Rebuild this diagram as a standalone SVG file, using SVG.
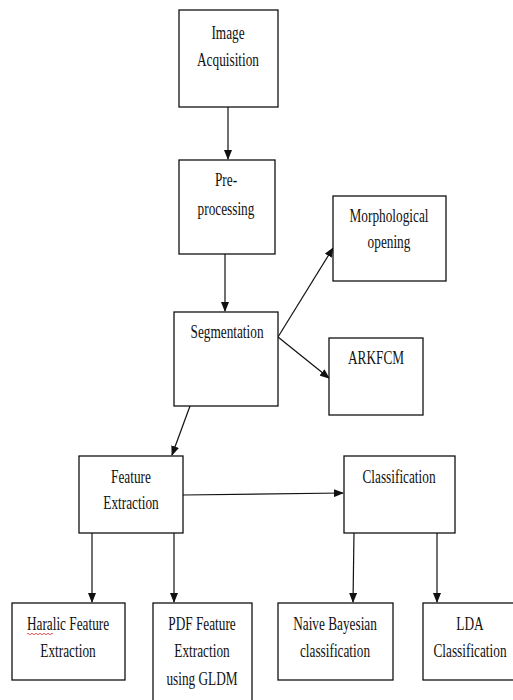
<svg xmlns="http://www.w3.org/2000/svg" width="513" height="700" viewBox="0 0 513 700">
<style>
.box{fill:#fff;stroke:#111;stroke-width:1.3}
.t{font-family:"Liberation Serif","Times New Roman",serif;font-size:19px;fill:#111;text-anchor:middle}
.c{stroke:#111;stroke-width:1.2;fill:none;marker-end:url(#ah)}
</style>
<defs>
<marker id="ah" markerWidth="10" markerHeight="8" refX="9" refY="4" orient="auto" markerUnits="userSpaceOnUse">
<path d="M0,0 L10,4 L0,8 Z" fill="#111"/>
</marker>
</defs>
<rect width="513" height="700" fill="#fff"/>
<g id="connectors">
<line class="c" x1="228" y1="107" x2="228" y2="159"/>
<line class="c" x1="225" y1="254" x2="225" y2="311"/>
<line class="c" x1="278" y1="337" x2="333" y2="248"/>
<line class="c" x1="278" y1="337" x2="329" y2="378"/>
<line class="c" x1="190" y1="406" x2="172" y2="455"/>
<line class="c" x1="183" y1="495" x2="343" y2="493"/>
<line class="c" x1="92" y1="533" x2="92" y2="602"/>
<line class="c" x1="174" y1="533" x2="174" y2="602"/>
<line class="c" x1="354" y1="533" x2="353" y2="602"/>
<line class="c" x1="437" y1="533" x2="437" y2="602"/>
</g>
<g id="image-acquisition">
<rect class="box" x="179" y="10" width="99" height="97"/>
<text class="t" transform="translate(228,39) scale(0.7,1)">Image</text>
<text class="t" transform="translate(228,66) scale(0.7,1)">Acquisition</text>
</g>
<g id="pre-processing">
<rect class="box" x="179" y="160" width="96" height="94"/>
<text class="t" transform="translate(226,186) scale(0.7,1)">Pre-</text>
<text class="t" transform="translate(226,215) scale(0.7,1)">processing</text>
</g>
<g id="segmentation">
<rect class="box" x="174" y="312" width="104" height="94"/>
<text class="t" transform="translate(227,338) scale(0.7,1)">Segmentation</text>
</g>
<g id="morphological-opening">
<rect class="box" x="333" y="196" width="113" height="85"/>
<text class="t" transform="translate(389,222) scale(0.7,1)">Morphological</text>
<text class="t" transform="translate(389,248) scale(0.7,1)">opening</text>
</g>
<g id="arkfcm">
<rect class="box" x="329" y="338" width="94" height="77"/>
<text class="t" transform="translate(376,364) scale(0.7,1)">ARKFCM</text>
</g>
<g id="feature-extraction">
<rect class="box" x="79" y="456" width="104" height="77"/>
<text class="t" transform="translate(131,483) scale(0.7,1)">Feature</text>
<text class="t" transform="translate(131,509) scale(0.7,1)">Extraction</text>
</g>
<g id="classification">
<rect class="box" x="344" y="456" width="111" height="77"/>
<text class="t" transform="translate(399,483) scale(0.7,1)">Classification</text>
</g>
<g id="haralic">
<rect class="box" x="12" y="603" width="113" height="77"/>
<text class="t" transform="translate(68,630) scale(0.7,1)">Haralic Feature</text>
<path d="M27,634 q1,-1.5 2,0 t2,0 t2,0 t2,0 t2,0 t2,0 t2,0 t2,0 t2,0 t2,0 t2,0 t2,0 t2,0" fill="none" stroke="#e03030" stroke-width="0.8"/>
<text class="t" transform="translate(68,657) scale(0.7,1)">Extraction</text>
</g>
<g id="pdf-gldm">
<rect class="box" x="153" y="603" width="99" height="110"/>
<text class="t" transform="translate(202,630) scale(0.7,1)">PDF Feature</text>
<text class="t" transform="translate(202,657) scale(0.7,1)">Extraction</text>
<text class="t" transform="translate(202,685) scale(0.7,1)">using GLDM</text>
</g>
<g id="naive-bayesian">
<rect class="box" x="278" y="603" width="115" height="77"/>
<text class="t" transform="translate(335,630) scale(0.7,1)">Naive Bayesian</text>
<text class="t" transform="translate(335,657) scale(0.7,1)">classification</text>
</g>
<g id="lda">
<rect class="box" x="423" y="603" width="92" height="77"/>
<text class="t" transform="translate(470,630) scale(0.7,1)">LDA</text>
<text class="t" transform="translate(470,657) scale(0.7,1)">Classification</text>
</g>
</svg>
